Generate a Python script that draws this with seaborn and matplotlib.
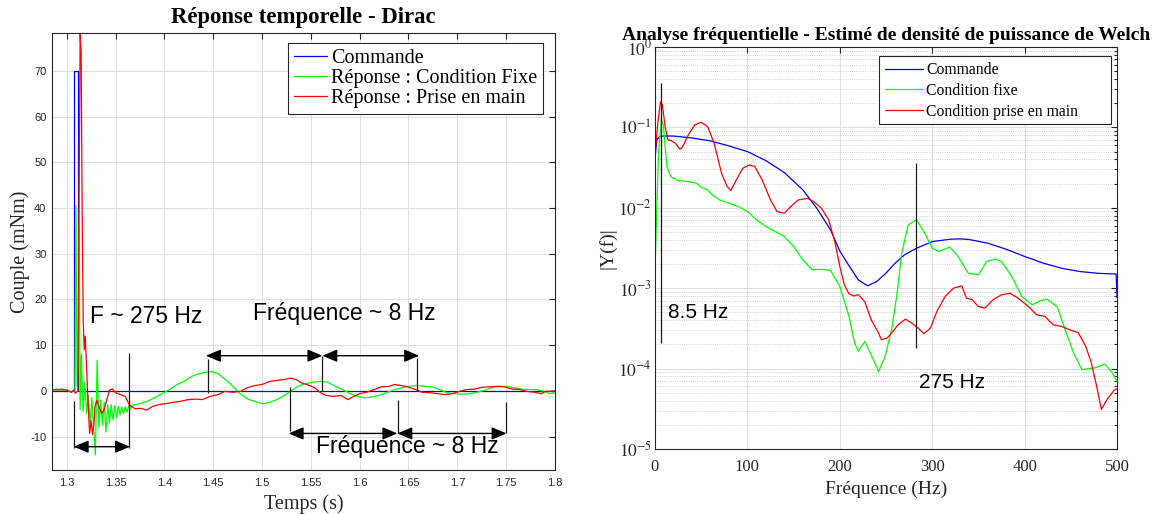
import numpy as np
import pandas as pd
import matplotlib
matplotlib.use("Agg")
import matplotlib.pyplot as plt
import seaborn as sns
from matplotlib.patches import Rectangle
from matplotlib.ticker import LogLocator, NullFormatter

# ---------------- Réponse temporelle - Dirac ----------------
t_cmd = [1.285, 1.3075, 1.3075, 1.312, 1.312, 1.8]
v_cmd = [0, 0, 70, 70, 0, 0]

t_fix = [1.285, 1.290, 1.295, 1.300, 1.305, 1.3085, 1.3095, 1.3106, 1.3118, 1.3128, 1.3138,
         1.3150, 1.3168, 1.3186, 1.3204, 1.3222, 1.3240, 1.3258, 1.3276, 1.3294, 1.3312,
         1.3330, 1.3348, 1.3366, 1.3384, 1.3402, 1.3420, 1.3438, 1.3456, 1.3474, 1.3492,
         1.3510, 1.3528, 1.3546, 1.3564, 1.3582, 1.3600, 1.3618, 1.3636, 1.3654, 1.3672,
         1.3748, 1.3824, 1.3900, 1.3976, 1.4053, 1.4129, 1.4205, 1.4281, 1.4358, 1.4434,
         1.4491, 1.4548, 1.4625, 1.4701, 1.4777, 1.4854, 1.4930, 1.5006, 1.5063, 1.5140,
         1.5216, 1.5292, 1.5368, 1.5445, 1.5521, 1.5597, 1.5674, 1.5750, 1.5826, 1.5902,
         1.5979, 1.6055, 1.6131, 1.6207, 1.6284, 1.6360, 1.6436, 1.6513, 1.6589, 1.6665,
         1.6741, 1.6818, 1.6894, 1.6970, 1.7047, 1.7123, 1.7199, 1.7275, 1.7352, 1.7428,
         1.7504, 1.7580, 1.7657, 1.7733, 1.7809, 1.7886, 1.7943, 1.8000]
v_fix = [0.2, 0.4, 0.1, 0.3, -0.2, 0.1, 40.5, 1.0, 6.0, 36.0, -4.0,
         8.0, -4.5, 2.0, -5.0, -1.0, -7.0, -1.5, -8.0, -14.0, 6.7,
         -8.0, -2.0, -7.5, -2.5, -9.0, -3.0, -7.0, -3.0, -6.3, -3.2,
         -5.8, -3.4, -5.3, -3.5, -5.0, -3.4, -4.6, -3.3, -4.0, -3.1,
         -2.8, -2.3, -1.5, -0.6, 0.3, 1.4, 2.1, 3.2, 3.8, 4.1,
         4.2, 3.8, 2.5, 1.0, -0.6, -1.8, -2.3, -2.8, -2.6, -2.0,
         -1.2, -0.1, 1.0, 1.6, 1.9, 2.1, 1.9, 1.0, 0.3, -0.6,
         -1.2, -1.5, -1.3, -0.9, -0.3, 0.3, 0.7, 1.0, 1.2, 1.0,
         0.9, 0.3, -0.4, -0.6, -0.7, -0.6, -0.3, 0.1, 0.7, 1.0,
         1.0, 0.7, 0.4, 0.3, 0.3, -0.1, -0.6, -0.4]

t_main = [1.285, 1.290, 1.295, 1.300, 1.305, 1.307, 1.309, 1.3115, 1.3128, 1.3138, 1.3148,
          1.3160, 1.317, 1.318, 1.319, 1.320, 1.321, 1.322, 1.3235, 1.325, 1.3265, 1.328,
          1.329, 1.331, 1.333, 1.336, 1.338, 1.341, 1.344, 1.347, 1.350, 1.355,
          1.360, 1.364, 1.370, 1.376, 1.382, 1.388, 1.394, 1.401, 1.409, 1.416,
          1.424, 1.432, 1.439, 1.447, 1.455, 1.462, 1.470, 1.478, 1.485, 1.493,
          1.500, 1.508, 1.516, 1.523, 1.529, 1.535, 1.540, 1.546, 1.554, 1.560,
          1.566, 1.573, 1.581, 1.588, 1.594, 1.600, 1.607, 1.615, 1.622, 1.630,
          1.636, 1.642, 1.649, 1.657, 1.664, 1.672, 1.680, 1.687, 1.695, 1.702,
          1.710, 1.718, 1.725, 1.733, 1.741, 1.748, 1.756, 1.764, 1.771, 1.779,
          1.786, 1.790, 1.800]
v_main = [0.3, 0.2, 0.4, 0.1, -0.3, 0.2, -0.5, 0.0, 45.0, 78.0, 74.0,
          35.0, 15.0, 9.0, 12.0, 7.0, 2.0, -3.0, -9.3, -6.5, -9.5, -7.0,
          -3.5, -2.0, -3.5, -4.9, -4.3, -2.0, 0.2, 0.4, -0.4, -0.8,
          -1.2, -3.0, -3.9, -3.8, -4.2, -3.4, -3.0, -2.8, -2.5, -2.3,
          -1.9, -1.8, -1.9, -1.2, -0.8, -0.1, -0.3, -0.1, 0.7, 1.2,
          1.4, 2.1, 2.3, 2.5, 2.8, 2.5, 1.8, 1.4, 0.7, -0.4,
          -1.0, -1.2, -1.0, -1.9, -1.2, -0.6, -0.3, 0.3, 0.9, 1.0,
          1.4, 1.2, 0.9, 0.3, -0.3, -0.4, -0.6, -0.8, -0.6, -0.1,
          0.3, 0.4, 0.8, 0.9, 1.0, 0.9, 0.4, 0.3, -0.1, -0.3,
          -0.6, -0.1, 0.0]

# annotations temporelles
mark_t = [1.3080, 1.3640, 1.4443, 1.5610, 1.6590, 1.5287, 1.6390, 1.7500]
mark_lo = [-12.5, -12.5, -0.4, 0.0, -0.1, -8.8, -9.3, -9.3]
mark_hi = [-2.3, 8.4, 6.9, 7.7, 7.2, 0.9, -2.0, -2.5]
arrow_t0 = [1.3072, 1.4426, 1.5618, 1.5273, 1.6386]
arrow_t1 = [1.3648, 1.5618, 1.6609, 1.6386, 1.7504]
arrow_v = [-12.2, 7.7, 7.7, -9.3, -9.3]
note_t = [1.3237, 1.4903, 1.5551]
note_v = [14.9, 15.5, -13.6]
note_txt = ['F ~ 275 Hz', 'Fréquence ~ 8 Hz', 'Fréquence ~ 8 Hz']

time_ticks = [1.3, 1.35, 1.4, 1.45, 1.5, 1.55, 1.6, 1.65, 1.7, 1.75, 1.8]
time_labels = ['1.3', '1.35', '1.4', '1.45', '1.5', '1.55', '1.6', '1.65', '1.7', '1.75', '1.8']
couple_ticks = [-10, 0, 10, 20, 30, 40, 50, 60, 70]
couple_labels = ['-10', '0', '10', '20', '30', '40', '50', '60', '70']

# ---------------- Analyse fréquentielle (Welch) ----------------
f_cmd = [0, 2, 5, 10, 20, 40, 60, 80, 100, 120, 140, 160, 175, 190, 200, 210, 220, 230,
         240, 250, 260, 270, 283, 300, 320, 330, 340, 360, 380, 400, 420, 440, 460, 480,
         499, 500]
y_cmd = [0.0413, 0.0698, 0.0768, 0.0783, 0.078, 0.0739, 0.0679, 0.0588, 0.050, 0.0386,
         0.0274, 0.0167, 0.0099, 0.0053, 0.0029, 0.0019, 0.00127, 0.00107, 0.00121, 0.00154,
         0.00205, 0.0026, 0.00314, 0.0038, 0.00407, 0.0041, 0.00403, 0.00363, 0.00305,
         0.00248, 0.00205, 0.00177, 0.00161, 0.00153, 0.0015, 0.00076]

f_fix = [0, 2, 4, 7, 9, 11, 13, 17, 25, 35, 45, 50, 57, 62, 70, 80, 90, 100, 110, 120,
         130, 140, 150, 160, 170, 180, 190, 200, 210, 216, 220, 227, 233, 242, 249, 256,
         262, 267, 274, 283, 292, 300, 307, 319, 328, 339, 350, 359, 368, 375, 386, 397,
         408, 417, 424, 435, 444, 453, 462, 476, 487, 495, 500]
y_fix = [0.00169, 0.0104, 0.0525, 0.126, 0.107, 0.0577, 0.0326, 0.0244, 0.0218, 0.0212,
         0.0202, 0.018, 0.0167, 0.0145, 0.0125, 0.0114, 0.0104, 0.00898, 0.00708, 0.00585,
         0.00507, 0.00439, 0.0033, 0.00225, 0.00169, 0.00172, 0.00166, 0.00105, 0.000445,
         0.000207, 0.000165, 0.000217, 0.000156, 0.000092, 0.000142, 0.000303, 0.000867,
         0.00272, 0.00613, 0.00708, 0.00483, 0.00314, 0.00286, 0.00324, 0.00248, 0.00154,
         0.00147, 0.00215, 0.0023, 0.00215, 0.0014, 0.000788, 0.000621, 0.000697, 0.00073,
         0.000592, 0.000303, 0.000156, 0.000097, 0.000102, 0.000114, 0.000088, 0.000069]

f_main = [0, 3, 6, 8, 11, 14, 18, 22, 27, 30, 36, 43, 50, 57, 64, 72, 78, 82, 88, 95,
          102, 108, 116, 125, 132, 140, 147, 155, 165, 172, 180, 188, 195, 200, 205, 210,
          215, 220, 225, 227, 234, 242, 245, 251, 256, 263, 271, 278, 285, 291, 298, 305,
          314, 323, 332, 337, 343, 350, 357, 366, 375, 384, 393, 404, 413, 422, 431, 440,
          449, 458, 466, 472, 478, 483, 489, 497, 500]
y_main = [0.045, 0.112, 0.209, 0.19, 0.102, 0.0698, 0.068, 0.0635, 0.0535, 0.0577, 0.0805,
          0.107, 0.116, 0.102, 0.0635, 0.0269, 0.0184, 0.0164, 0.0222, 0.031, 0.0341,
          0.0326, 0.0222, 0.0125, 0.00898, 0.00855, 0.0104, 0.0125, 0.0131, 0.0119,
          0.00988, 0.00708, 0.00363, 0.00186, 0.0011, 0.00085, 0.0008, 0.00083, 0.00072,
          0.00068, 0.000404, 0.000276, 0.000228, 0.000239, 0.000276, 0.00035, 0.000412,
          0.000367, 0.000318, 0.000271, 0.000318, 0.000513, 0.000788, 0.001, 0.00107,
          0.00075, 0.00072, 0.000592, 0.000565, 0.00072, 0.000827, 0.000867, 0.00075,
          0.000592, 0.000467, 0.000445, 0.00035, 0.000334, 0.000303, 0.00028, 0.00019,
          0.00012, 0.00006, 0.000031, 0.000041, 0.000054, 0.000056]

freq_mark_f = [6.5, 282.5]
freq_mark_lo = [2.07e-4, 1.8e-4]
freq_mark_hi = [0.353, 0.0365]
freq_note_f = [14, 285.7]
freq_note_y = [4.28e-4, 5.77e-5]
freq_note_txt = ['8.5 Hz', '275 Hz']

freq_ticks = [0, 100, 200, 300, 400, 500]
decades = [1e-5, 1e-4, 1e-3, 1e-2, 1e-1, 1e0]
decade_labels = ['$10^{-5}$', '$10^{-4}$', '$10^{-3}$', '$10^{-2}$', '$10^{-1}$', '$10^{0}$']

sns.set_style("white")
plt.rcParams['font.family'] = ['Liberation Serif', 'DejaVu Serif']
plt.rcParams['mathtext.fontset'] = 'stix'
plt.rcParams['text.color'] = 'black'

SANS = ['Liberation Sans', 'DejaVu Sans']
AX_COL = '#262626'
GRID_COL = '#dedede'


def trace(ax, x, y, color, label):
    df = pd.DataFrame({'x': x, 'y': y})
    sns.lineplot(data=df, x='x', y='y', ax=ax, color=color, linewidth=0.9,
                 label=label, sort=False, estimator=None)


def style_axes(ax):
    for s in ax.spines.values():
        s.set_color(AX_COL)
        s.set_linewidth(0.8)
    ax.tick_params(which='both', direction='in', top=True, right=True,
                   color=AX_COL, labelcolor=AX_COL, width=0.8)
    ax.tick_params(which='major', length=4)
    ax.tick_params(which='minor', length=2)
    ax.set_axisbelow(True)


fig = plt.figure(figsize=(11.56, 5.14), dpi=100)
ax1 = fig.add_axes([0.045, 0.0856, 0.4351, 0.8502])
ax2 = fig.add_axes([0.5666, 0.1265, 0.3997, 0.7821])

# ----- left -----
trace(ax1, t_cmd, v_cmd, '#0000ff', 'Commande')
trace(ax1, t_fix, v_fix, '#00ff00', 'Réponse : Condition Fixe')
trace(ax1, t_main, v_main, '#ff0000', 'Réponse : Prise en main')

ax1.set_xlim(1.285, 1.8)
ax1.set_ylim(-17.3, 78.3)
ax1.set_xticks(time_ticks, time_labels, fontfamily=SANS, fontsize=8)
ax1.set_yticks(couple_ticks, couple_labels, fontfamily=SANS, fontsize=8)
ax1.grid(True, color=GRID_COL, lw=0.7)
style_axes(ax1)
ax1.tick_params(axis='x', pad=5.5)
ax1.tick_params(axis='y', pad=4)

ax1.vlines(mark_t, mark_lo, mark_hi, color='#1a1a1a', lw=0.9)
for xa, xb, yv in zip(arrow_t0, arrow_t1, arrow_v):
    ax1.annotate('', xy=(xb, yv), xytext=(xa, yv),
                 arrowprops=dict(arrowstyle='<|-|>,head_length=0.9,head_width=0.38',
                                 color='black', lw=1.0, shrinkA=0, shrinkB=0,
                                 mutation_scale=10))
for tx, vy, s in zip(note_t, note_v, note_txt):
    ax1.text(tx, vy, s, fontsize=16.5, family=SANS, ha='left', va='baseline', color='black')

ax1.set_title('Réponse temporelle - Dirac', fontsize=16.4, fontweight='bold', pad=7)
ax1.set_xlabel('Temps (s)', fontsize=14.5, labelpad=4.5, color=AX_COL)
ax1.set_ylabel('Couple (mNm)', fontsize=14.5, labelpad=0, color=AX_COL)
leg1 = ax1.legend(loc='upper right', bbox_to_anchor=(0.976, 0.977), borderaxespad=0,
                  fontsize=14.5, handlelength=1.6, handletextpad=0.2, labelspacing=0.05,
                  borderpad=0.3, fancybox=False, framealpha=1, edgecolor=AX_COL)
leg1.get_frame().set_linewidth(0.8)

# ----- right -----
trace(ax2, f_cmd, y_cmd, '#0000ff', 'Commande')
trace(ax2, f_fix, y_fix, '#00ff00', 'Condition fixe')
trace(ax2, f_main, y_main, '#ff0000', 'Condition prise en main')

ax2.set_yscale('log')
ax2.set_xlim(0, 500)
ax2.set_ylim(1e-5, 1)
ax2.set_xticks(freq_ticks, [str(v) for v in freq_ticks], fontsize=12)
ax2.set_yticks(decades, decade_labels, fontsize=12.5)
ax2.yaxis.set_minor_locator(LogLocator(base=10, subs=np.arange(2, 10), numticks=20))
ax2.yaxis.set_minor_formatter(NullFormatter())
ax2.grid(True, which='major', color=GRID_COL, lw=0.7)
ax2.grid(True, which='minor', axis='y', color='#c4c4c4', ls=':', lw=0.6)
style_axes(ax2)
ax2.tick_params(axis='x', pad=7)
ax2.tick_params(axis='y', pad=2)

ax2.vlines(freq_mark_f, freq_mark_lo, freq_mark_hi, color='#1a1a1a', lw=0.9)
for fx, fy, s in zip(freq_note_f, freq_note_y, freq_note_txt):
    ax2.text(fx, fy, s, fontsize=15, family=SANS, ha='left', va='baseline', color='black')

ax2.set_title('Analyse fréquentielle - Estimé de densité de puissance de Welch',
              fontsize=14, fontweight='bold', pad=5)
ax2.set_xlabel('Fréquence (Hz)', fontsize=14, labelpad=4, color=AX_COL)
ax2.set_ylabel('|Y(f)|', fontsize=14, labelpad=1, color=AX_COL)

# MATLAB-like legend box, wider than its content
ax2.add_patch(Rectangle((0.4848, 0.8085), 0.987 - 0.4848, 0.9776 - 0.8085,
                        transform=ax2.transAxes, facecolor='white', edgecolor=AX_COL,
                        lw=0.8, zorder=4.9))
leg2 = ax2.legend(loc='upper left', bbox_to_anchor=(0.4848, 0.9776), borderaxespad=0,
                  fontsize=11.3, handlelength=2.4, handletextpad=0.2, labelspacing=0.3,
                  borderpad=0.4, frameon=False)

fig.savefig('out.png', dpi=100)
